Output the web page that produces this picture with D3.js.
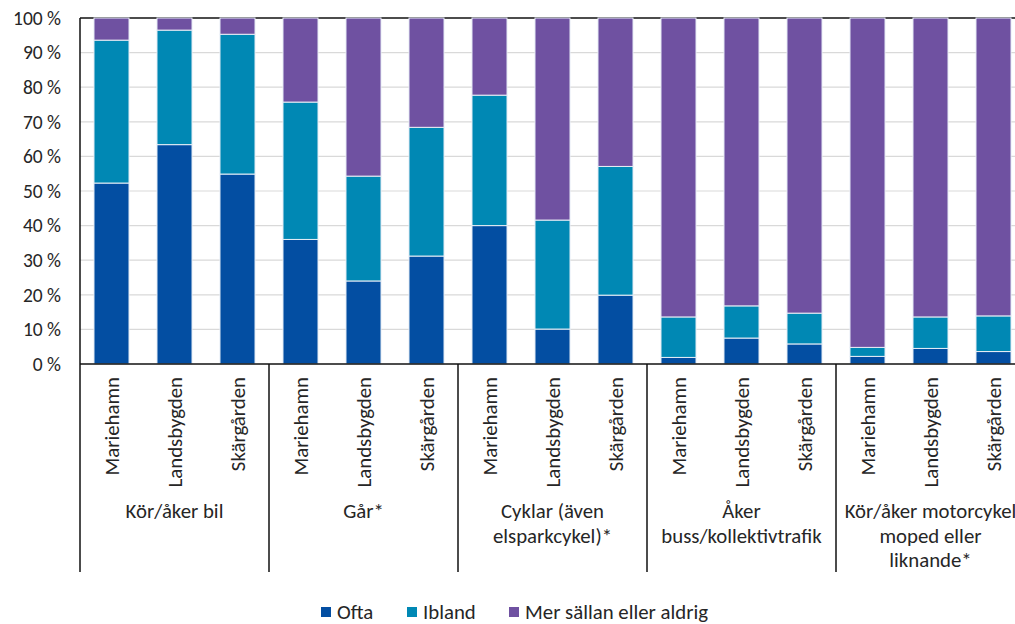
<!DOCTYPE html>
<html>
<head>
<meta charset="utf-8">
<script src="https://cdn.jsdelivr.net/npm/d3@7"></script>
<style>
  html, body { margin: 0; padding: 0; background: #fff; }
  svg { display: block; font-family: Carlito, Calibri, Lato, "Open Sans", sans-serif; }
</style>
</head>
<body>
<svg id="chart" width="1015" height="624"></svg>
<script>
// Transport modes (groups) and areas within each group
const groups = [
  ["Kör/åker bil"],
  ["Går*"],
  ["Cyklar (även", "elsparkcykel)*"],
  ["Åker", "buss/kollektivtrafik"],
  ["Kör/åker motorcykel", "moped eller", "liknande*"]
];
const areas = ["Mariehamn", "Landsbygden", "Skärgården"];
const seriesNames = ["Ofta", "Ibland", "Mer sällan eller aldrig"];

// Share in percent, one value per bar (group by group, area by area)
const ofta   = [52.3, 63.4, 54.9,  36.0, 24.0, 31.2,  40.0, 10.1, 19.9,  1.9, 7.5, 5.8,  2.2, 4.5, 3.6];
const ibland = [41.3, 33.1, 40.4,  39.7, 30.3, 37.2,  37.7, 31.5, 37.2,  11.7, 9.3, 8.9,  2.6, 9.1, 10.3];
const sallan = [6.4, 3.5, 4.7,  24.3, 45.7, 31.6,  22.3, 58.4, 42.9,  86.4, 83.2, 85.3,  95.2, 86.4, 86.1];

const yTicks = [0, 10, 20, 30, 40, 50, 60, 70, 80, 90, 100];
const colors = ["#034ea2", "#0088b4", "#6f51a1"];

const svg = d3.select("#chart");
const plotLeft = 80, plotRight = 1025, plotTop = 18, plotBottom = 364, catBottom = 572;
const labelSize = 20.8, textColor = "#262626";

const rows = ofta.map((v, i) => ({
  i, area: areas[i % 3], group: Math.floor(i / 3),
  "Ofta": v, "Ibland": ibland[i], "Mer sällan eller aldrig": sallan[i]
}));

const x = d3.scaleBand().domain(rows.map(d => d.i)).range([plotLeft, plotRight])
  .paddingInner(0.444).paddingOuter(0.222);
const y = d3.scaleLinear().domain([0, 100]).range([plotBottom, plotTop]);

// Horizontal gridlines
svg.append("g").selectAll("line").data(yTicks.filter(t => t > 0 && t < 100)).join("line")
  .attr("x1", plotLeft).attr("x2", plotRight)
  .attr("y1", d => y(d)).attr("y2", d => y(d))
  .attr("stroke", "#d9d9d9").attr("stroke-width", 1.2);
svg.append("line").attr("x1", plotLeft).attr("x2", plotRight)
  .attr("y1", y(100)).attr("y2", y(100))
  .attr("stroke", "#111").attr("stroke-width", 1.5);

// Stacked bars
const stack = d3.stack().keys(seriesNames)(rows);
svg.append("g").selectAll("g").data(stack).join("g")
  .attr("fill", (d, k) => colors[k])
  .selectAll("rect").data(d => d).join("rect")
  .attr("x", d => x(d.data.i))
  .attr("width", x.bandwidth())
  .attr("y", d => y(d[1]))
  .attr("height", d => y(d[0]) - y(d[1]))
  .attr("stroke", "#e8eef6").attr("stroke-width", 1);

// Y axis
const yAxis = d3.axisLeft(y).tickValues(yTicks).tickFormat(d => d + " %").tickSize(0).tickPadding(19);
const ya = svg.append("g").attr("transform", `translate(${plotLeft},0)`).call(yAxis);
ya.select(".domain").remove();
ya.selectAll("text").attr("font-size", 19.5).attr("fill", textColor)
  .attr("font-family", "Carlito, Calibri, Lato, sans-serif");

// Axis lines and group separators
svg.append("line").attr("x1", plotLeft).attr("x2", plotRight).attr("y1", plotBottom).attr("y2", plotBottom)
  .attr("stroke", "#111").attr("stroke-width", 1.5);
const step = x.step();
const seps = d3.range(0, groups.length + 1).map(g => plotLeft + g * 3 * step);
svg.append("g").selectAll("line").data(seps).join("line")
  .attr("x1", d => d).attr("x2", d => d)
  .attr("y1", (d, k) => k === 0 ? plotTop : plotBottom).attr("y2", catBottom)
  .attr("stroke", "#111").attr("stroke-width", 1.5);

// Area labels (rotated)
svg.append("g").selectAll("text").data(rows).join("text")
  .attr("transform", d => `translate(${x(d.i) + x.bandwidth() / 2},377) rotate(-90)`)
  .attr("text-anchor", "end").attr("dominant-baseline", "central")
  .attr("font-size", labelSize).attr("fill", textColor)
  .text(d => d.area);

// Group labels
const gl = svg.append("g").selectAll("text").data(groups).join("text")
  .attr("text-anchor", "middle").attr("font-size", labelSize).attr("fill", textColor)
  .attr("x", (d, g) => plotLeft + (g * 3 + 1.5) * step)
  .attr("y", 518);
gl.selectAll("tspan").data(d => d).join("tspan")
  .attr("x", function() { return d3.select(this.parentNode).attr("x"); })
  .attr("dy", (d, k) => k === 0 ? 0 : 24.5)
  .text(d => d);

// Legend
const legendX = [321, 407, 509];
const lg = svg.append("g").selectAll("g").data(seriesNames).join("g")
  .attr("transform", (d, k) => `translate(${legendX[k]},612)`);
lg.append("rect").attr("x", 0).attr("y", -5).attr("width", 10).attr("height", 10)
  .attr("fill", (d, k) => colors[k]);
lg.append("text").attr("x", 16).attr("y", 0).attr("dominant-baseline", "central")
  .attr("font-size", labelSize).attr("fill", textColor).text(d => d);
</script>
</body>
</html>
